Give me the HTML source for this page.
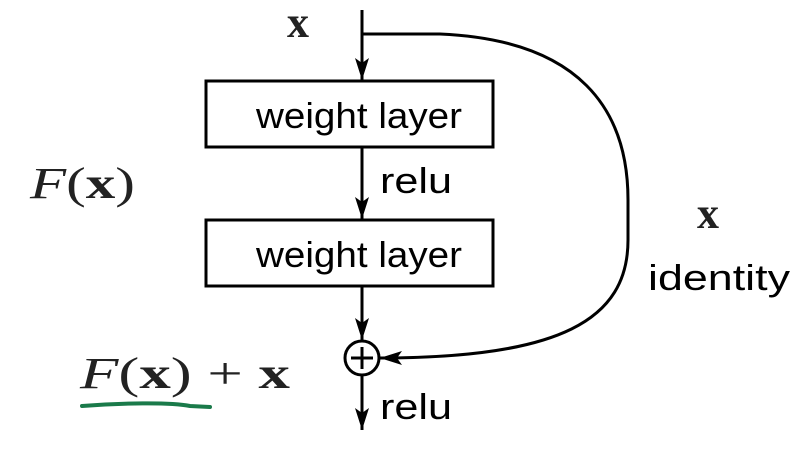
<!DOCTYPE html>
<html><head><style>
body{margin:0;background:#fff;}
</style></head><body>
<svg width="805" height="452" xmlns="http://www.w3.org/2000/svg">
<defs>
<marker id="b" markerWidth="22" markerHeight="14" refX="22" refY="7" orient="auto" markerUnits="userSpaceOnUse" viewBox="0 0 22 14"><path d="M0,0 L22,7 L0,14 L5,7 Z" fill="#000"/></marker></defs>
<g stroke="#000" stroke-width="3" fill="none">
<line x1="362" y1="10" x2="362" y2="80" marker-end="url(#b)"/>
<rect x="206" y="81" width="287" height="66"/>
<line x1="362" y1="147" x2="362" y2="219" marker-end="url(#b)"/>
<rect x="206" y="220" width="287" height="66"/>
<line x1="362" y1="287" x2="362" y2="340" marker-end="url(#b)"/>
<circle cx="362" cy="358" r="17"/>
<line x1="351" y1="358" x2="373" y2="358"/><line x1="362" y1="347" x2="362" y2="369"/>
<line x1="362" y1="375" x2="362" y2="430" marker-end="url(#b)"/>
<path d="M362,34 L440,34 C580,40 628,110 628,200 L628,240 C628,320 560,358 380,358" marker-end="url(#b)"/>
</g>
<g font-family="Liberation Sans Narrow, Liberation Sans, sans-serif" font-size="36" fill="#000">
<text x="256" y="128" textLength="206" lengthAdjust="spacingAndGlyphs">weight layer</text>
<text x="256" y="267" textLength="206" lengthAdjust="spacingAndGlyphs">weight layer</text>
<text x="380" y="193" textLength="72" lengthAdjust="spacingAndGlyphs">relu</text>
<text x="380" y="419" textLength="72" lengthAdjust="spacingAndGlyphs">relu</text>
<text x="648" y="290" textLength="142" lengthAdjust="spacingAndGlyphs">identity</text>
</g>
<g font-family="Liberation Serif, serif" font-size="44" fill="#222">
<text x="287" y="37" font-weight="bold">x</text>
<text x="697" y="228" font-weight="bold">x</text>
<text x="30" y="198" textLength="105" lengthAdjust="spacingAndGlyphs"><tspan font-style="italic">F</tspan>(<tspan font-weight="bold">x</tspan>)</text>
<text x="80" y="388" textLength="210" lengthAdjust="spacingAndGlyphs"><tspan font-style="italic">F</tspan>(<tspan font-weight="bold">x</tspan>) + <tspan font-weight="bold">x</tspan></text>
</g>
<path d="M82,406 C120,403 170,402 190,406 L210,407" stroke="#1a7a4a" stroke-width="4" fill="none" stroke-linecap="round"/>
</svg>
</body></html>
